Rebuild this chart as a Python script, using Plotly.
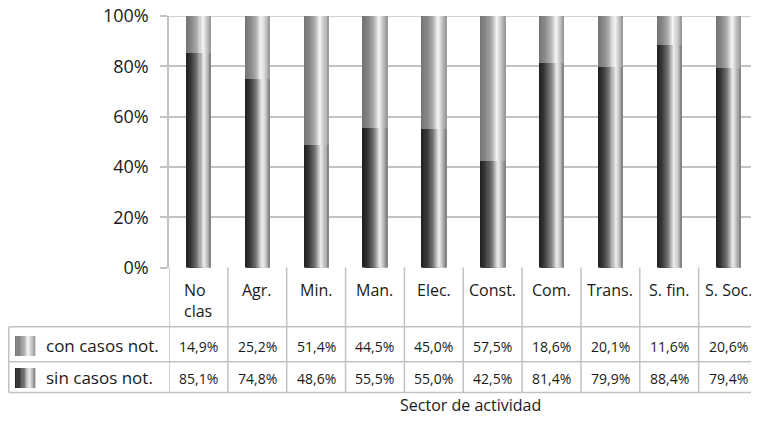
import plotly.graph_objects as go

# ---- data ----
categories = ["No clas", "Agr.", "Min.", "Man.", "Elec.", "Const.", "Com.", "Trans.", "S. fin.", "S. Soc."]
header_labels = ["No<br>clas", "Agr.", "Min.", "Man.", "Elec.", "Const.", "Com.", "Trans.", "S. fin.", "S. Soc."]
con_casos = [14.9, 25.2, 51.4, 44.5, 45.0, 57.5, 18.6, 20.1, 11.6, 20.6]
sin_casos = [85.1, 74.8, 48.6, 55.5, 55.0, 42.5, 81.4, 79.9, 88.4, 79.4]
series_names = ["con casos not.", "sin casos not."]
y_ticks = [0, 20, 40, 60, 80, 100]
y_ticktext = ["0%", "20%", "40%", "60%", "80%", "100%"]
x_title = "Sector de actividad"

# page body has an 8px margin; figure placed so the window shows the intended layout
OFF = 8
W, H = 759 - OFF, 423 - OFF
FONT = "Open Sans"
TXT = "#1a1a1a"
LINE = "#c2c2c2"


def px_y(p):
    return 1 - (p - OFF) / H


def px_x(p):
    return (p - OFF) / W


def grad(stops, t):
    for (t0, v0), (t1, v1) in zip(stops, stops[1:]):
        if t0 <= t <= t1:
            v = v0 + (v1 - v0) * (t - t0) / (t1 - t0)
            v = int(round(v))
            return f"rgb({v},{v},{v})"
    v = stops[-1][1]
    return f"rgb({v},{v},{v})"


dark_stops = [(0, 30), (0.2, 55), (0.45, 115), (0.7, 238), (0.82, 200), (1.0, 125)]
light_stops = [(0, 115), (0.25, 138), (0.45, 172), (0.66, 246), (0.8, 205), (1.0, 150)]

BAR_W = 0.425
N = 24

fig = go.Figure()

for stops, base, vals in [(dark_stops, None, sin_casos), (light_stops, sin_casos, con_casos)]:
    for i in range(N):
        start = -BAR_W / 2 + i * BAR_W / N
        fig.add_trace(go.Bar(
            x=categories, y=vals, base=base,
            offset=start, width=BAR_W / 2 - start,
            marker=dict(color=grad(stops, (i + 0.5) / N), line=dict(width=0)),
            hoverinfo="skip", showlegend=False,
        ))

x_dom = [px_x(169), px_x(757.5)]
y_dom = [px_y(267.5), px_y(16)]

fig.update_layout(
    width=W, height=H,
    margin=dict(l=0, r=0, t=0, b=0, pad=0, autoexpand=False),
    paper_bgcolor="white", plot_bgcolor="white",
    barmode="overlay", bargap=0, showlegend=False,
    font=dict(family=FONT, color=TXT),
    xaxis=dict(type="category", domain=x_dom, range=[-0.5, 9.5], automargin=False,
               showticklabels=False, showgrid=False, zeroline=False, showline=False, ticks=""),
    yaxis=dict(domain=y_dom, range=[0, 100], tickvals=y_ticks, ticktext=y_ticktext, automargin=False,
               ticklabeloverflow="allow",
               showgrid=True, gridcolor=LINE, gridwidth=1.5, zeroline=False,
               showline=True, linecolor=LINE, linewidth=1.5,
               ticks="outside", ticklen=7, tickcolor=LINE, tickwidth=1.5,
               ticklabelstandoff=8, tickfont=dict(size=18, family=FONT, color=TXT)),
)

shapes = []
line = dict(color=LINE, width=1.5)
y_top_tab = px_y(267.5)
y_r1 = px_y(326.7)
y_r2 = px_y(361.7)
y_r3 = px_y(392.5)
x_left = px_x(8.8)
# top gridline of the plot (drawn explicitly so it is never dropped at the range edge)
shapes.append(dict(type="line", xref="paper", yref="y", x0=x_dom[0], x1=x_dom[1], y0=100, y1=100,
                   line=line, layer="below"))
# horizontal table lines
for yy in [y_r1, y_r2, y_r3]:
    shapes.append(dict(type="line", xref="paper", yref="paper", x0=x_left, x1=x_dom[1], y0=yy, y1=yy, line=line))
# vertical table lines at category boundaries
for k in range(len(categories) + 1):
    xb = k - 0.5
    y0 = y_dom[1] if k == len(categories) else y_top_tab
    shapes.append(dict(type="line", xref="x", yref="paper", x0=xb, x1=xb, y0=y0, y1=y_r3, line=line))
shapes.append(dict(type="line", xref="paper", yref="paper", x0=x_left, x1=x_left, y0=y_r1, y1=y_r3, line=line))

# legend keys (gradient squares)
NK = 16
for stops, (ky0, ky1) in [(light_stops, (336, 356)), (dark_stops, (368, 388))]:
    kx0, kx1 = 15, 35
    for i in range(NK):
        sx0 = kx0 + (kx1 - kx0) * i / NK
        sx1 = kx0 + (kx1 - kx0) * (i + 1) / NK + 0.4
        shapes.append(dict(type="rect", xref="paper", yref="paper",
                           x0=px_x(sx0), x1=px_x(sx1), y0=px_y(ky1), y1=px_y(ky0),
                           fillcolor=grad(stops, (i + 0.5) / NK), line=dict(width=0), layer="above"))

annotations = []
for c, lab in zip(categories, header_labels):
    annotations.append(dict(x=c, xref="x", y=px_y(277), yref="paper", text=lab, showarrow=False,
                            xanchor="center", yanchor="top", align="left",
                            font=dict(size=16, family=FONT, color=TXT)))


def fmt(v):
    return f"{v:.1f}%".replace(".", ",")


for vals, ypx in [(con_casos, 346.5), (sin_casos, 378)]:
    for c, v in zip(categories, vals):
        annotations.append(dict(x=c, xref="x", y=px_y(ypx), yref="paper", text=fmt(v), showarrow=False,
                                xanchor="center", yanchor="middle",
                                font=dict(size=14, family=FONT, color=TXT)))

for name, ypx in zip(series_names, [345.5, 377.5]):
    annotations.append(dict(x=px_x(44), xref="paper", y=px_y(ypx), yref="paper", text=name, showarrow=False,
                            xanchor="left", yanchor="middle", font=dict(size=17, family=FONT, color=TXT)))

annotations.append(dict(x=px_x(470), xref="paper", y=px_y(405), yref="paper", text=x_title, showarrow=False,
                        xanchor="center", yanchor="middle", font=dict(size=16, family=FONT, color=TXT)))

fig.update_layout(shapes=shapes, annotations=annotations)
fig.write_html("out.html")
